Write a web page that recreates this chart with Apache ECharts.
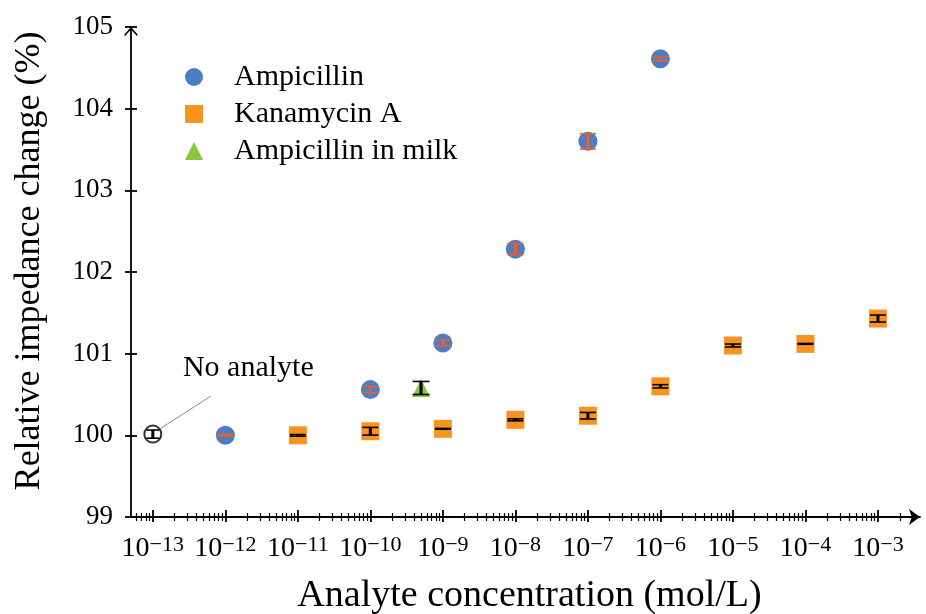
<!DOCTYPE html>
<html>
<head>
<meta charset="utf-8">
<script src="https://cdn.jsdelivr.net/npm/echarts@6/dist/echarts.min.js"></script>
<style>html,body{margin:0;padding:0;background:#fff}#c{width:926px;height:614px}</style>
</head>
<body>
<div id="c"></div>
<script>
// ---- data ----
const concAmp = [1e-12, 1e-10, 1e-9, 1e-8, 1e-7, 1e-6];
const valAmp  = [100.00, 100.56, 101.13, 102.28, 103.60, 104.61];
const errAmp  = [0.01, 0.04, 0.035, 0.067, 0.094, 0.022];

const concKan = [1e-11, 1e-10, 1e-9, 1e-8, 1e-7, 1e-6, 1e-5, 1e-4, 1e-3];
const valKan  = [100.00, 100.05, 100.08, 100.19, 100.24, 100.60, 101.10, 101.12, 101.43];
const errKan  = [0.01, 0.047, 0.005, 0.012, 0.04, 0.02, 0.018, 0.005, 0.043];

const concMilk = [5e-10];
const valMilk  = [100.58];
const errMilk  = [0.08];

const concNone = [1e-13];
const valNone  = [100.015];
const errNone  = [0.05];

const seriesNames = ['Ampicillin', 'Kanamycin A', 'Ampicillin in milk'];
const xTickExponents = [-13, -12, -11, -10, -9, -8, -7, -6, -5, -4, -3];
const yMin = 99, yMax = 105;
const annotationText = 'No analyte';
const annotationLabelAt = [-11.683, 100.826];     // data units (log10 conc, %)
const annotationLine = [[-12.945, 100.055], [-12.2, 100.48]];

// ---- helpers ----
const FONT = 'Liberation Serif';
const xMin = Math.log10(5e-14), xMax = -2.42;
const lg = v => Math.log10(v);
const pts = (c, v) => c.map((x, i) => [lg(x), v[i]]);
const errPts = (c, v, e) => c.map((x, i) => [lg(x), v[i], e[i]]);
const minorTicks = [];
for (let n = -14; n <= -3; n++) for (let k = 2; k <= 9; k++) {
  const t = Math.log10(k) + n;
  if (t > xMin && t < xMax) minorTicks.push(t);
}
const arrowUp = 'path://M0,0 L7,8 L6,9.2 L0,2.6 L-6,9.2 L-7,8 Z';

function errSeries(data, color, hw, z) {
  return {
    type: 'custom', data: data, z: z, silent: true,
    renderItem: function (params, api) {
      const x = api.value(0), y = api.value(1), e = api.value(2);
      const t = api.coord([x, y + e]), b = api.coord([x, y - e]);
      return { type: 'group', children: [
        { type: 'line', shape: { x1: t[0], y1: t[1], x2: b[0], y2: b[1] }, style: { stroke: color, lineWidth: 3 } },
        { type: 'line', shape: { x1: t[0] - hw, y1: t[1], x2: t[0] + hw, y2: t[1] }, style: { stroke: color, lineWidth: 1.6 } },
        { type: 'line', shape: { x1: b[0] - hw, y1: b[1], x2: b[0] + hw, y2: b[1] }, style: { stroke: color, lineWidth: 1.6 } }
      ]};
    }
  };
}

const baseX = { type: 'value', min: xMin, max: xMax, position: 'bottom', splitLine: { show: false } };
const hiddenLabel = { show: false };

const option = {
  animation: false,
  backgroundColor: '#fff',
  grid: { left: 131, right: 6, top: 27, bottom: 97, outerBoundsMode: 'none', containLabel: false },
  legend: {
    data: seriesNames, orient: 'vertical', left: 180, top: 57,
    itemWidth: 18, itemHeight: 18, itemGap: 7,
    textStyle: { fontFamily: FONT, fontSize: 30, color: '#000', lineHeight: 30, padding: [0, 0, 0, 26] }
  },
  xAxis: [
    Object.assign({}, baseX, {
      name: 'Analyte concentration (mol/L)', nameLocation: 'middle', nameGap: 60,
      nameTextStyle: { fontFamily: FONT, fontSize: 38, color: '#000', padding: [0, 0, 0, 8] },
      axisLine: { show: true, lineStyle: { color: '#000', width: 1.8 }, symbol: ['none', 'arrow'], symbolSize: [12, 11] },
      axisTick: { show: true, length: 5, lineStyle: { color: '#000', width: 1.8 }, customValues: xTickExponents },
      axisLabel: {
        margin: 17, color: '#000', customValues: xTickExponents,
        formatter: v => '{b|10}{s|\u2212' + Math.round(-v) + '}',
        rich: {
          b: { fontFamily: FONT, fontSize: 28, lineHeight: 30, color: '#000' },
          s: { fontFamily: FONT, fontSize: 22, lineHeight: 18, verticalAlign: 'top', color: '#000' }
        }
      }
    }),
    Object.assign({}, baseX, {
      axisLine: { show: false },
      axisTick: { show: true, inside: true, length: 7, lineStyle: { color: '#000', width: 1.8 }, customValues: xTickExponents },
      axisLabel: hiddenLabel
    }),
    Object.assign({}, baseX, {
      axisLine: { show: false },
      axisTick: { show: true, length: 4, lineStyle: { color: '#000', width: 1.2 }, customValues: minorTicks },
      axisLabel: hiddenLabel
    }),
    Object.assign({}, baseX, {
      axisLine: { show: false },
      axisTick: { show: true, inside: true, length: 4, lineStyle: { color: '#000', width: 1.2 }, customValues: minorTicks },
      axisLabel: hiddenLabel
    })
  ],
  yAxis: [
    {
      type: 'value', min: yMin, max: yMax, interval: 1, position: 'left',
      name: 'Relative impedance change (%)', nameLocation: 'middle', nameGap: 83,
      nameTextStyle: { fontFamily: FONT, fontSize: 36, color: '#000', padding: [0, 0, 0, 22] },
      splitLine: { show: false },
      axisLine: { show: true, lineStyle: { color: '#000', width: 1.8 }, symbol: ['none', arrowUp], symbolSize: [14, 9], symbolOffset: [0, -4.5] },
      axisTick: { show: true, length: 6, lineStyle: { color: '#000', width: 1.8 } },
      axisLabel: { margin: 18, fontFamily: FONT, fontSize: 27, color: '#000' }
    },
    {
      type: 'value', min: yMin, max: yMax, interval: 1, position: 'left',
      splitLine: { show: false }, axisLine: { show: false },
      axisTick: { show: true, inside: true, length: 6, lineStyle: { color: '#000', width: 1.8 } },
      axisLabel: hiddenLabel
    }
  ],
  series: [
    {
      name: 'No analyte marker', type: 'scatter', data: pts(concNone, valNone), symbol: 'circle', symbolSize: 17, z: 2,
      itemStyle: { color: '#fff', borderColor: '#000', borderWidth: 2 },
      markLine: {
        silent: true, symbol: ['none', 'none'], label: { show: false }, z: 1,
        lineStyle: { color: '#8a8a8a', width: 1, type: 'solid' },
        data: [[{ coord: annotationLine[0] }, { coord: annotationLine[1] }]]
      },
      markPoint: {
        silent: true, symbol: 'circle', symbolSize: 1, itemStyle: { color: 'rgba(0,0,0,0)' },
        label: { show: true, position: 'inside', formatter: annotationText, fontFamily: FONT, fontSize: 30, color: '#000' },
        data: [{ coord: annotationLabelAt }]
      }
    },
    { name: 'Ampicillin', type: 'scatter', data: pts(concAmp, valAmp), symbol: 'circle', symbolSize: 19, itemStyle: { color: '#4D7DC5', opacity: 1 }, z: 2 },
    { name: 'Kanamycin A', type: 'scatter', data: pts(concKan, valKan), symbol: 'rect', symbolSize: 18, itemStyle: { color: '#F7931E', opacity: 1 }, z: 2 },
    { name: 'Ampicillin in milk', type: 'scatter', data: pts(concMilk, valMilk), symbol: 'triangle', symbolSize: 18, itemStyle: { color: '#8CC63F', opacity: 1 }, z: 2 },
    errSeries(errPts(concNone, valNone, errNone), '#000', 6.5, 3),
    errSeries(errPts(concAmp, valAmp, errAmp), '#EB5E28', 8, 3),
    errSeries(errPts(concKan, valKan, errKan), '#000', 8, 3),
    errSeries(errPts(concMilk, valMilk, errMilk), '#000', 8.5, 3)
  ]
};

const chart = echarts.init(document.getElementById('c'), null, { renderer: 'canvas' });
chart.setOption(option);
</script>
</body>
</html>
